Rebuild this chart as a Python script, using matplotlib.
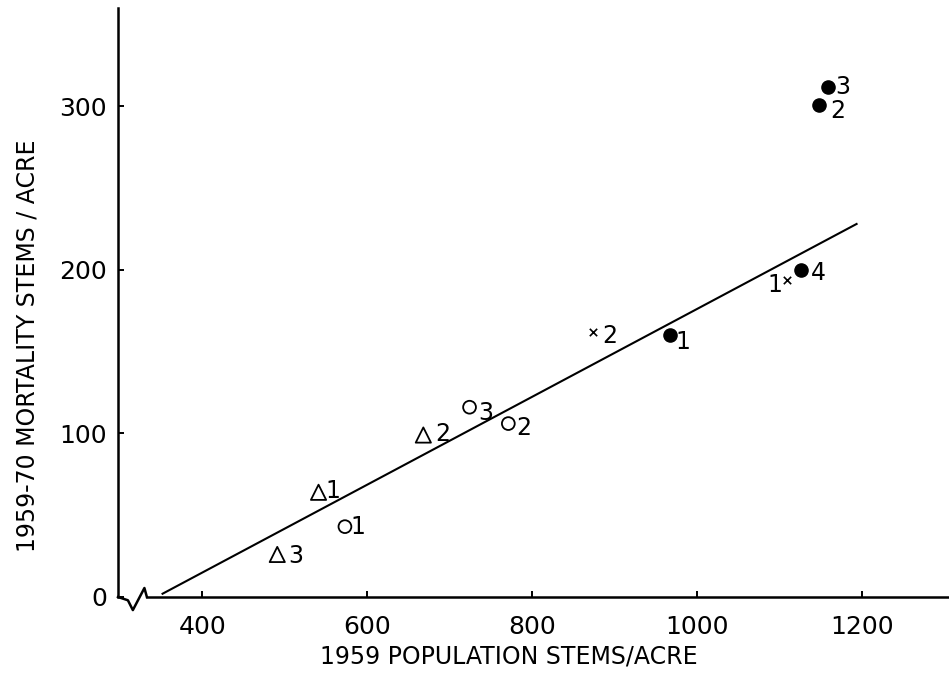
import matplotlib
matplotlib.use("Agg")
import matplotlib.pyplot as plt

# open triangles
tri_x = [541, 668, 491]
tri_y = [64, 99, 26]
tri_lab = ["1", "2", "3"]

# open circles
circ_x = [573, 771, 724]
circ_y = [43, 106, 116]
circ_lab = ["1", "2", "3"]

# crosses
cross_x = [1109, 874]
cross_y = [194, 162]
cross_lab = ["1", "2"]

# filled circles
dot_x = [967, 1148, 1158, 1126]
dot_y = [160, 301, 312, 200]
dot_lab = ["1", "2", "3", "4"]

# fitted line end points
fit_x = [352, 1193]
fit_y = [2, 228]

xticks = [400, 600, 800, 1000, 1200]
yticks = [0, 100, 200, 300]

plt.rcParams['font.family'] = ['DejaVu Sans']

fig = plt.figure(figsize=(9.49, 6.94), dpi=100)
ax = fig.add_axes([118/949, 1-597/694, 831/949, 589/694])
ax.set_xlim(298, 1305)
ax.set_ylim(0, 360)

for s in ['top', 'right']:
    ax.spines[s].set_visible(False)
ax.spines['left'].set_linewidth(1.8)
ax.spines['bottom'].set_linewidth(1.8)
ax.spines['bottom'].set_bounds(333, 1305)

ax.set_xticks(xticks)
ax.set_yticks(yticks)
ax.tick_params(direction='in', length=4, width=1.4, labelsize=18)
ax.tick_params(axis='x', pad=13)
ax.tick_params(axis='y', pad=8)

# axis break zigzag
ax.plot([298, 310, 316, 330, 333], [0, -2, -8, 5.5, 0], color='black',
        lw=1.8, clip_on=False)

ax.plot(fit_x, fit_y, color='black', lw=1.5)

ax.scatter(tri_x, tri_y, marker='^', s=120, facecolors='none',
           edgecolors='black', linewidths=1.3)
ax.scatter(circ_x, circ_y, marker='o', s=85, facecolors='none',
           edgecolors='black', linewidths=1.3)
ax.scatter(cross_x, cross_y, marker='x', s=28, color='black', linewidths=1.2)
ax.scatter(dot_x, dot_y, marker='o', s=90, color='black')

def put_labels(xs, ys, labs, offs):
    for x, y, t, o in zip(xs, ys, labs, offs):
        ax.annotate(t, (x, y), xytext=o, textcoords='offset points',
                    ha='center', va='center', fontsize=17)

put_labels(tri_x, tri_y, tri_lab, [(10, 1), (14, 1), (13, -1)])
put_labels(circ_x, circ_y, circ_lab, [(9, 0), (11, -3), (12, -4)])
put_labels(cross_x, cross_y, cross_lab, [(-9, -4), (12, -3)])
put_labels(dot_x, dot_y, dot_lab, [(9, -5), (13, -5), (11, 0), (12, -2)])

fig.text(509/949, 1-657/694, "1959 POPULATION STEMS/ACRE",
         ha='center', va='center', fontsize=17)
fig.text(28/949, 1-346/694, "1959-70 MORTALITY STEMS / ACRE",
         ha='center', va='center', rotation=90, fontsize=17)

fig.savefig("out.png", dpi=100, facecolor='white')
